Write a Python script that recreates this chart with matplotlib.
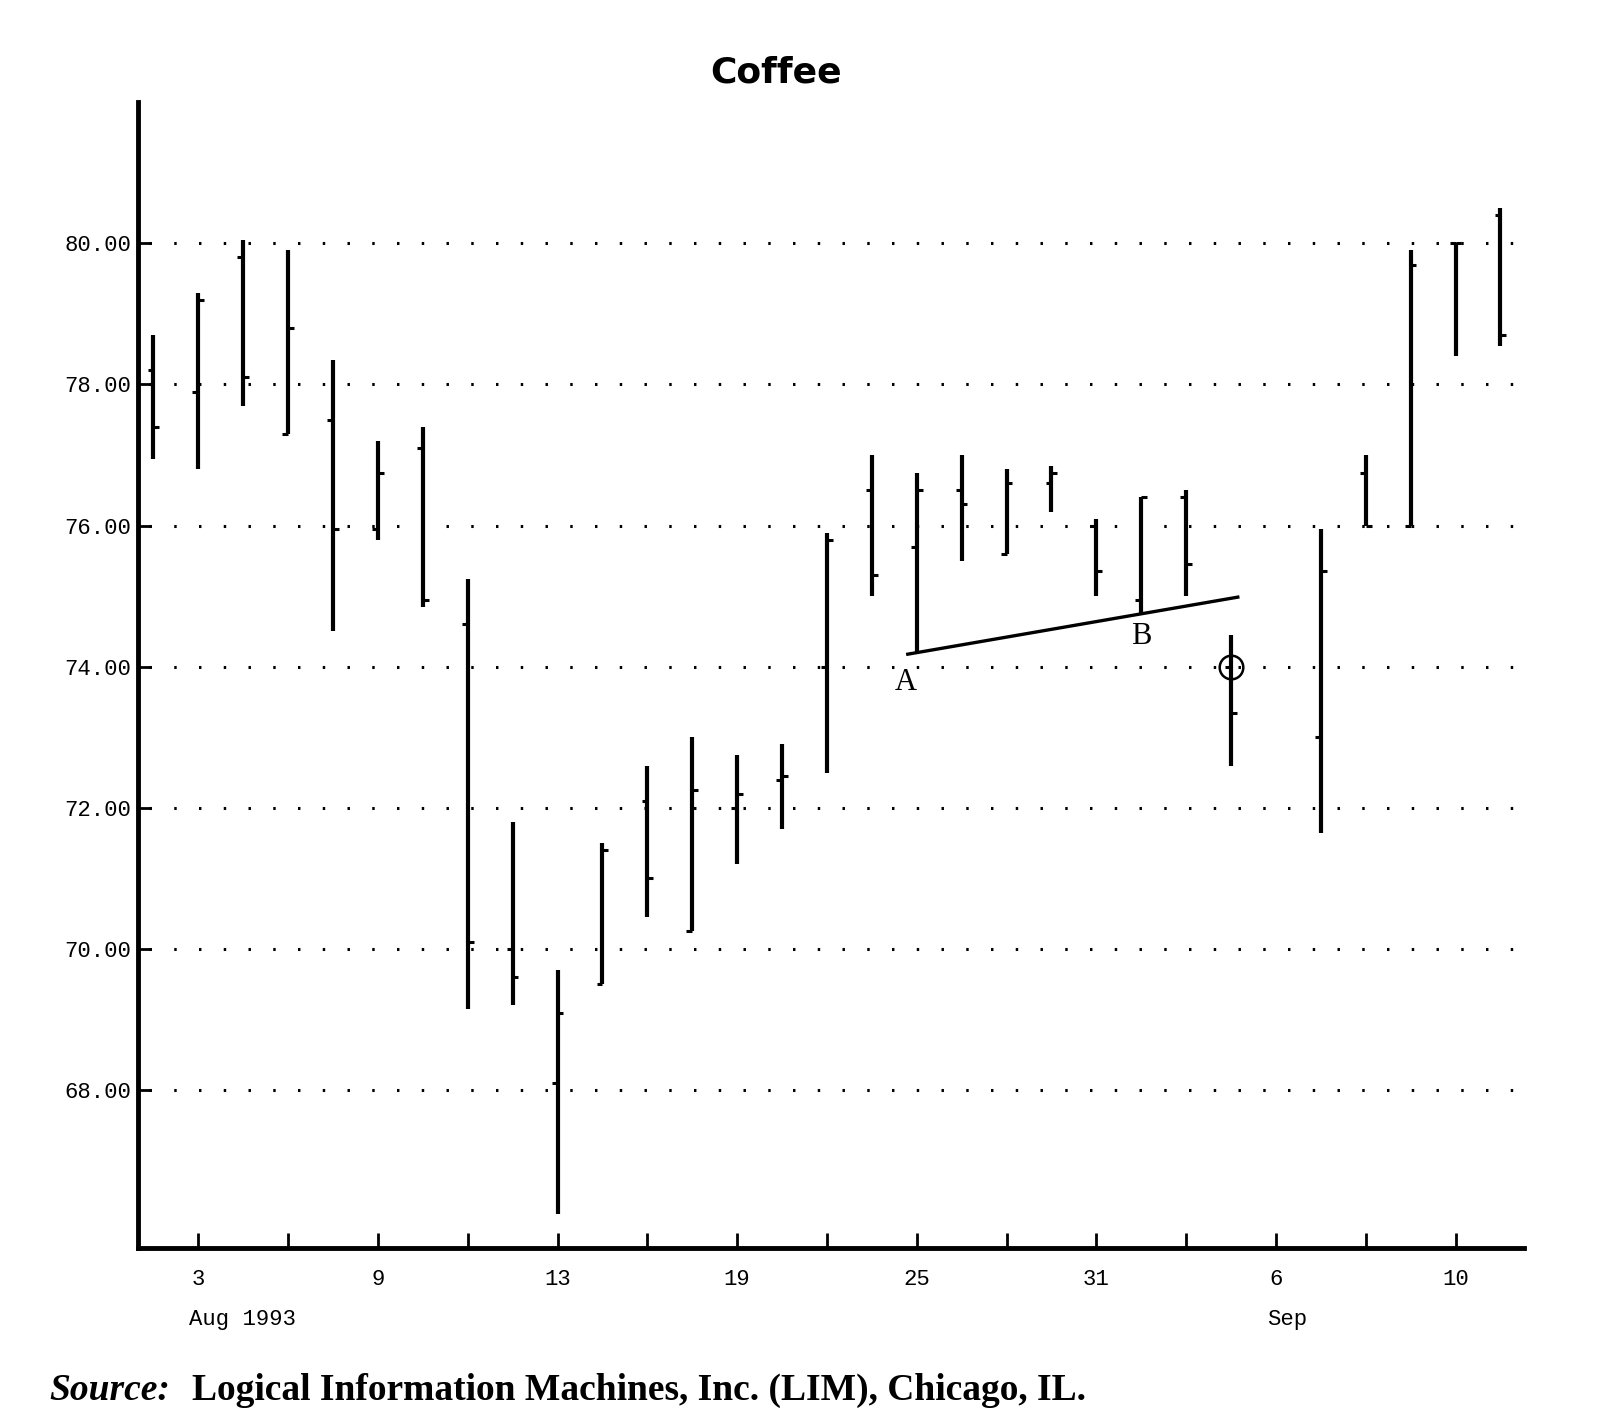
import pandas as pd
import matplotlib
matplotlib.use('Agg')
import matplotlib.pyplot as plt
from matplotlib.transforms import blended_transform_factory

# daily coffee futures bars (Labor Day, Sep 6, has no bar)
dates = ['1993-08-02', '1993-08-03', '1993-08-04', '1993-08-05', '1993-08-06',
         '1993-08-09', '1993-08-10', '1993-08-11', '1993-08-12', '1993-08-13',
         '1993-08-16', '1993-08-17', '1993-08-18', '1993-08-19', '1993-08-20',
         '1993-08-23', '1993-08-24', '1993-08-25', '1993-08-26', '1993-08-27',
         '1993-08-30', '1993-08-31', '1993-09-01', '1993-09-02', '1993-09-03',
         '1993-09-07', '1993-09-08', '1993-09-09', '1993-09-10', '1993-09-13']
opens = [78.2, 77.9, 79.8, 77.3, 77.5, 75.95, 77.1, 74.6, 70.0, 68.1,
         69.5, 72.1, 70.25, 72.0, 72.4, 74.0, 76.5, 75.7, 76.5, 75.6,
         76.6, 76.0, 74.95, 76.4, 74.0, 73.0, 76.75, 76.0, 80.0, 80.4]
highs = [78.7, 79.3, 80.05, 79.9, 78.35, 77.2, 77.4, 75.25, 71.8, 69.7,
         71.5, 72.6, 73.0, 72.75, 72.9, 75.9, 77.0, 76.75, 77.0, 76.8,
         76.85, 76.1, 76.4, 76.5, 74.45, 75.95, 77.0, 79.9, 80.0, 80.5]
lows = [76.95, 76.8, 77.7, 77.3, 74.5, 75.8, 74.85, 69.15, 69.2, 66.25,
        69.5, 70.45, 70.25, 71.2, 71.7, 72.5, 75.0, 74.2, 75.5, 75.6,
        76.2, 75.0, 74.75, 75.0, 72.6, 71.65, 76.0, 76.0, 78.4, 78.55]
closes = [77.4, 79.2, 78.1, 78.8, 75.95, 76.75, 74.95, 70.1, 69.6, 69.1,
          71.4, 71.0, 72.25, 72.2, 72.45, 75.8, 75.3, 76.5, 76.3, 76.6,
          76.75, 75.35, 76.4, 75.45, 73.35, 75.35, 76.0, 79.7, 80.0, 78.7]

grid_levels = [68, 70, 72, 74, 76, 78, 80]
day_labels = ['3', '9', '13', '19', '25', '31', '6', '10']
label_dates = ['1993-08-03', '1993-08-09', '1993-08-13', '1993-08-19',
               '1993-08-25', '1993-08-31', '1993-09-06', '1993-09-10']
month_labels = ['Aug 1993', 'Sep']
month_dates = ['1993-08-03', '1993-09-06']

# support line drawn through the lows A and B, and the circled price
point_a = '1993-08-25'
point_b = '1993-09-01'
trend_end = '1993-09-03'
circle_date = '1993-09-03'
circle_price = 74.0

# x axis is business-day slots, so the holiday keeps its gap
slots = pd.bdate_range('1993-08-02', '1993-09-13')
def pos(d):
    return slots.get_loc(pd.Timestamp(d))

xs = [pos(d) for d in dates]

fig = plt.figure(figsize=(16.04, 14.2), dpi=100)
ax = fig.add_axes([0.086, 0.121, 0.864, 0.807])

mono = 'Liberation Mono'
serif = 'Liberation Serif'

# dotted grid
ax.hlines(grid_levels, -0.1, 30.5, colors='black', linewidth=2.2,
          linestyles=(0, (0.8, 7.3)), zorder=1)

# high-low bars with open (left) and close (right) ticks
tk = 0.13
for x, o, h, l, c in zip(xs, opens, highs, lows, closes):
    ax.vlines(x, l, h, colors='black', linewidth=3.0, zorder=3)
    ax.hlines(o, x - tk, x, colors='black', linewidth=2.2, zorder=3)
    ax.hlines(c, x, x + tk, colors='black', linewidth=2.2, zorder=3)

# trend line A-B
lo = dict(zip(dates, lows))
xa, xb = pos(point_a), pos(point_b)
ya, yb = lo[point_a], lo[point_b]
slope = (yb - ya) / (xb - xa)
x0, x1 = xa - 0.2, pos(trend_end) + 0.15
ax.plot([x0, x1], [ya + slope * (x0 - xa), ya + slope * (x1 - xa)],
        color='black', linewidth=2.4, zorder=3)
ax.text(xa - 0.25, ya - 0.22, 'A', family=serif, fontsize=22,
        ha='center', va='top')
ax.text(xb, yb - 0.12, 'B', family=serif, fontsize=22,
        ha='center', va='top')
ax.plot(pos(circle_date), circle_price, marker='o', markersize=17,
        markerfacecolor='none', markeredgecolor='black', markeredgewidth=1.8,
        zorder=4)

ax.set_xlim(-0.345, 30.52)
ax.set_ylim(65.76, 82.0)

# axes frame
for s in ['top', 'right']:
    ax.spines[s].set_visible(False)
ax.spines['left'].set_linewidth(3.5)
ax.spines['bottom'].set_linewidth(3.5)

ax.set_yticks(grid_levels)
ax.set_yticklabels(['%.2f' % v for v in grid_levels], family=mono, fontsize=16)
ax.tick_params(axis='y', direction='in', length=9, width=2, pad=5)

label_pos = [pos(d) for d in label_dates]
ax.set_xticks(label_pos)
ax.set_xticklabels(day_labels, family=mono, fontsize=16)
ax.set_xticks([p + 2 for p in label_pos if p + 2 <= 30], minor=True)
ax.tick_params(axis='x', which='both', direction='in', length=11, width=2, pad=15)

tr = blended_transform_factory(ax.transData, ax.transAxes)
for lab, d in zip(month_labels, month_dates):
    ax.text(pos(d) - 0.2, -0.062, lab, transform=tr, family=mono, fontsize=16,
            ha='left', va='center')

fig.text(0.484, 0.949, 'Coffee', fontsize=26, fontweight='bold',
         ha='center', va='center')
fig.text(0.031, 0.021, 'Source:', family=serif, style='italic',
         fontweight='bold', fontsize=27, ha='left', va='center')
fig.text(0.12, 0.021, 'Logical Information Machines, Inc. (LIM), Chicago, IL.',
         family=serif, fontweight='bold', fontsize=27, ha='left', va='center')

fig.savefig('out.png', dpi=100)
